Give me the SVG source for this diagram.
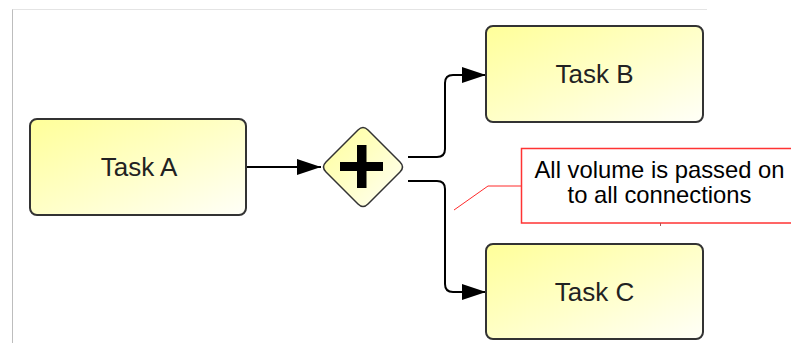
<svg xmlns="http://www.w3.org/2000/svg" width="791" height="343" viewBox="0 0 791 343">
  <defs>
    <linearGradient id="taskFill" x1="0" y1="0" x2="1" y2="1">
      <stop offset="0" stop-color="#ffff99"/>
      <stop offset="0.55" stop-color="#ffffcc"/>
      <stop offset="1" stop-color="#fffff8"/>
    </linearGradient>
    <marker id="arrow" markerUnits="userSpaceOnUse" markerWidth="26" markerHeight="18" refX="24" refY="8" orient="auto">
      <path d="M0,0 L24,8 L0,16 z" fill="#000"/>
    </marker>
  </defs>
  <style>
    .task { fill: url(#taskFill); stroke: #333; stroke-width: 2; }
    .label { font-family: "Liberation Sans", Arial, sans-serif; font-size: 26px; fill: #222; text-anchor: middle; }
    .flow { fill: none; stroke: #000; stroke-width: 2; }
    .note { font-family: "Liberation Sans", Arial, sans-serif; font-size: 23.8px; fill: #000; text-anchor: middle; }
  </style>

  <rect width="791" height="343" fill="#fff"/>
  <!-- canvas frame -->
  <line x1="12" y1="9.5" x2="707" y2="9.5" stroke="#e4e4e4" stroke-width="1"/>
  <line x1="12.5" y1="9.5" x2="12.5" y2="343" stroke="#bdbdbd" stroke-width="1"/>

  <g id="connectors">
    <path class="flow" d="M246,167 L321,167" marker-end="url(#arrow)"/>
    <path class="flow" d="M408,157 L437,157 Q445,157 445,149 L445,83 Q445,75 453,75 L486,75" marker-end="url(#arrow)"/>
    <path class="flow" d="M408,181 L437,181 Q445,181 445,189 L445,284 Q445,292 453,292 L486,292" marker-end="url(#arrow)"/>
  </g>

  <g id="taskA">
    <rect class="task" x="30" y="119" width="216" height="96" rx="7"/>
    <text class="label" x="139" y="176">Task A</text>
  </g>

  <g id="gateway">
    <path d="M358,130 Q363,125 368,130 L400,162 Q405,167 400,172 L368,204 Q363,209 358,204 L326,172 Q321,167 326,162 Z" fill="url(#taskFill)" stroke="#333" stroke-width="1.5"/>
    <rect x="340" y="162" width="43" height="9" fill="#000"/>
    <rect x="357" y="145" width="9.5" height="43" fill="#000"/>
  </g>

  <g id="taskB">
    <rect class="task" x="486" y="26" width="217" height="96" rx="7"/>
    <text class="label" x="594.5" y="83">Task B</text>
  </g>

  <g id="taskC">
    <rect class="task" x="486" y="244" width="217" height="95" rx="7"/>
    <text class="label" x="594.5" y="301">Task C</text>
  </g>

  <g id="annotation">
    <path d="M454,210 L488,186 L521.5,186" fill="none" stroke="#ff2a2a" stroke-width="1"/>
    <rect x="521.5" y="148.5" width="290" height="74.5" fill="#fff" stroke="#f33" stroke-width="1.5"/>
    <line x1="660.5" y1="223" x2="660.5" y2="226" stroke="#a55" stroke-width="1"/>
    <text class="note" x="659.5" y="178">All volume is passed on</text>
    <text class="note" x="659.5" y="203">to all connections</text>
  </g>
</svg>
